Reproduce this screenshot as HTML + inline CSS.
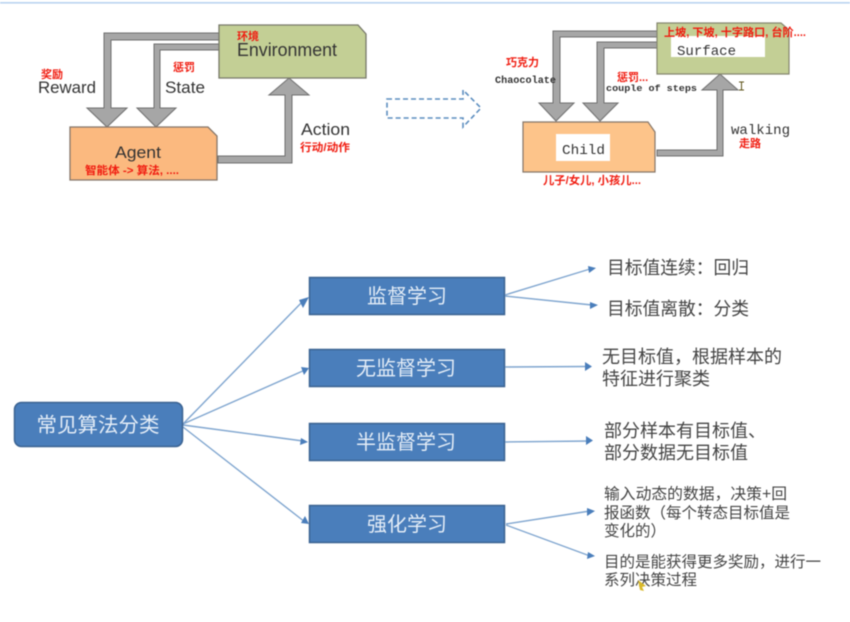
<!DOCTYPE html>
<html lang="zh">
<head>
<meta charset="utf-8">
<style>
html,body{margin:0;padding:0;background:#fff;width:850px;height:622px;overflow:hidden}
svg{display:block;filter:blur(.5px)}
text{font-family:"Liberation Sans","Noto Sans CJK SC",sans-serif}
.mono{font-family:"Liberation Mono","Noto Sans CJK SC",monospace;fill:#333}
.b{font-weight:700}
.red{fill:#f01c10;font-weight:700;font-size:11px}
.lab{fill:#333;font-size:17px}
.w{fill:#e4edf7;font-size:20px;text-anchor:middle}
.d{fill:#444;font-size:18px}
.s{fill:#444;font-size:15.500px}
.ar{stroke:#7fa5cf;stroke-width:1.4;fill:none}
.ah{fill:#4a7ebb}
.bx{fill:#4a7ebb;stroke:#3a6291;stroke-width:1.5}
.g{fill:#a6a6a6;stroke:#6f6f6f;stroke-width:1}
</style>
</head>
<body>
<svg width="850" height="622" viewBox="0 0 850 622" xmlns="http://www.w3.org/2000/svg">
<rect x="0" y="2" width="850" height="1.6" fill="#b9d3f0"/>

<!-- Left loop -->
<path class="g" d="M219 33H104V108H87L107 127L127 108H111V40H219Z"/>
<path class="g" d="M219 44H154V108H137L156 127L176 108H160V50H219Z"/>
<path class="g" d="M218 156H285V95H269L289 78L309 95H292V163H218Z"/>
<path d="M219 25H358L366 34V78H219Z" fill="#c3cf95" stroke="#77786a" stroke-width="1.3"/>
<path d="M70 127H208L217 136V180H70Z" fill="#fbb97f" stroke="#85766a" stroke-width="1.3"/>
<text class="red" x="237" y="40">环境</text>
<text x="237" y="56" font-size="18" fill="#333" textLength="100" lengthAdjust="spacingAndGlyphs">Environment</text>
<text class="red" x="41" y="78">奖励</text>
<text class="lab" x="38" y="93" textLength="58" lengthAdjust="spacingAndGlyphs">Reward</text>
<text class="red" x="173" y="71">惩罚</text>
<text class="lab" x="165" y="93" textLength="40" lengthAdjust="spacingAndGlyphs">State</text>
<text x="115" y="158" font-size="17" fill="#333" textLength="46" lengthAdjust="spacingAndGlyphs">Agent</text>
<text class="red" x="85" y="174" textLength="94" lengthAdjust="spacingAndGlyphs">智能体 -&gt; 算法, ....</text>
<text class="lab" x="301" y="135" textLength="49" lengthAdjust="spacingAndGlyphs">Action</text>
<text class="red" x="300" y="151" textLength="50" lengthAdjust="spacingAndGlyphs">行动/动作</text>

<!-- Dashed arrow -->
<path d="M387 99H463V90L481 108L463 127V118H387Z" fill="#fff" stroke="#5b8dbf" stroke-width="1.6" stroke-dasharray="5 3"/>

<!-- Right loop -->
<path class="g" d="M657 31H553V103H539L556 121L574 103H560V37H657Z"/>
<path class="g" d="M657 42H597V103H583L600 121L618 103H604V48H657Z"/>
<path class="g" d="M657 150H717V90H702L720 74L738 90H723V156H657Z"/>
<path d="M657 23H781L789 30V74H657Z" fill="#c3cf95" stroke="#85866f" stroke-width="1.2"/>
<rect x="671" y="36" width="94" height="21" fill="#fff"/>
<path d="M523 122H648L655 132V172H523Z" fill="#fdc48a" stroke="#85766a" stroke-width="1.2"/>
<rect x="556" y="134" width="54" height="27" fill="#fff"/>
<text class="red" x="664" y="36" textLength="142" lengthAdjust="spacingAndGlyphs">上坡, 下坡, 十字路口, 台阶....</text>
<text class="mono" x="677" y="55" font-size="14" textLength="59" lengthAdjust="spacingAndGlyphs">Surface</text>
<text class="red" x="506" y="66">巧克力</text>
<text class="mono b" x="495" y="83" font-size="10" textLength="61" lengthAdjust="spacingAndGlyphs">Chaocolate</text>
<text class="red" x="617" y="81">惩罚...</text>
<text class="mono b" x="606" y="91" font-size="9.500" textLength="91" lengthAdjust="spacingAndGlyphs">couple of steps</text>
<text class="mono" x="562" y="154" font-size="14" textLength="43" lengthAdjust="spacingAndGlyphs">Child</text>
<text class="mono" x="731" y="134" font-size="14" textLength="59" lengthAdjust="spacingAndGlyphs">walking</text>
<text class="red" x="739" y="147">走路</text>
<text class="red" x="543" y="184" textLength="98" lengthAdjust="spacingAndGlyphs">儿子/女儿, 小孩儿...</text>
<path d="M739 82H744M741.500 82V90M739 90H744" stroke="#5c5218" stroke-width="1" fill="none"/>

<!-- Root connectors -->
<path class="ar" d="M183 424L305 299M183 424L305 370M183 425L303 441M183 427L305 522"/>
<path class="ah" d="M309 297L303 308L299 300Z"/>
<path class="ah" d="M309 368L304 375L301 367Z"/>
<path class="ah" d="M308 442L300 445L301 438Z"/>
<path class="ah" d="M309 524L301 523L305 516Z"/>

<!-- Boxes -->
<rect class="bx" x="14.500" y="402.500" width="168" height="44" rx="7"/>
<text class="w" x="98" y="432" style="font-size:20.500px">常见算法分类</text>
<rect class="bx" x="309.500" y="277.500" width="195" height="37"/>
<text class="w" x="407" y="303">监督学习</text>
<rect class="bx" x="309.500" y="349.500" width="195" height="37"/>
<text class="w" x="406" y="375">无监督学习</text>
<rect class="bx" x="309.500" y="423.500" width="195" height="37"/>
<text class="w" x="406" y="449">半监督学习</text>
<rect class="bx" x="309.500" y="505.500" width="195" height="37"/>
<text class="w" x="407" y="531">强化学习</text>

<!-- Right connectors -->
<path class="ar" d="M505 295L590 269M505 296L592 305M505 367L588 366.500M505 442L590 441M506 524L590 511M506 525L590 556"/>
<path class="ah" d="M596 268L589 273L588 266Z"/>
<path class="ah" d="M598 305L590 309L590 302Z"/>
<path class="ah" d="M592 366.500L585 371L585 362Z"/>
<path class="ah" d="M593 440.500L586 445L586 436Z"/>
<path class="ah" d="M595 511L587 516L587 508Z"/>
<path class="ah" d="M595 556L587 559L588 552Z"/>

<!-- Descriptions -->
<text class="d" x="607" y="274" textLength="142" lengthAdjust="spacingAndGlyphs">目标值连续：回归</text>
<text class="d" x="607" y="315" textLength="142" lengthAdjust="spacingAndGlyphs">目标值离散：分类</text>
<text class="d" x="602" y="363">无目标值，根据样本的</text>
<text class="d" x="602" y="385">特征进行聚类</text>
<text class="d" x="604" y="437">部分样本有目标值、</text>
<text class="d" x="604" y="459">部分数据无目标值</text>
<text class="s" x="604" y="499" textLength="183" lengthAdjust="spacingAndGlyphs">输入动态的数据，决策+回</text>
<text class="s" x="604" y="518" textLength="186" lengthAdjust="spacingAndGlyphs">报函数（每个转态目标值是</text>
<text class="s" x="604" y="536" textLength="62" lengthAdjust="spacingAndGlyphs">变化的）</text>
<text class="s" x="604" y="567" textLength="217" lengthAdjust="spacingAndGlyphs">目的是能获得更多奖励，进行一</text>
<text class="s" x="604" y="585">系列决策过程</text>
<path d="M638 580L646 586L642 587L644 591L640 590Z" fill="#d9b92a"/>
</svg>
</body>
</html>
